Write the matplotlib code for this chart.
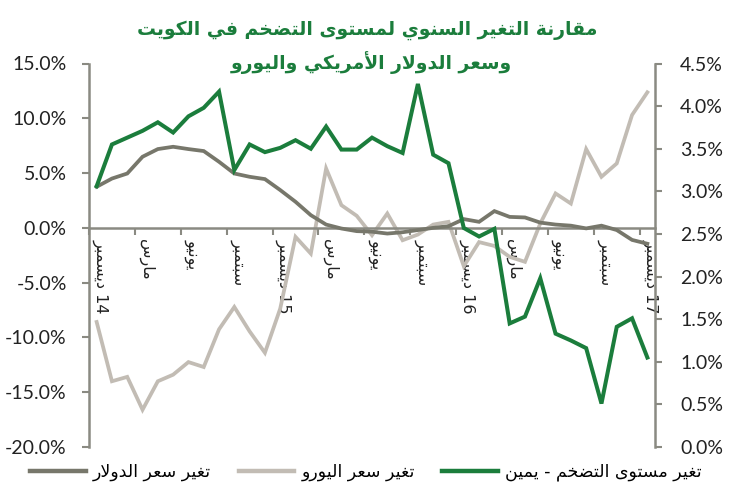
import matplotlib
matplotlib.use("Agg")
import matplotlib.pyplot as plt
from matplotlib.lines import Line2D
import numpy as np

# ---------------- data ----------------
# monthly, Dec 2014 .. Dec 2017 (37 points)
inflation = [3.06, 3.55, 3.63, 3.71, 3.81, 3.69, 3.88, 3.98, 4.17, 3.25,
             3.55, 3.46, 3.51, 3.60, 3.50, 3.76, 3.49, 3.49, 3.63, 3.53,
             3.45, 4.26, 3.43, 3.33, 2.57, 2.47, 2.56, 1.45, 1.53, 1.98,
             1.33, 1.25, 1.16, 0.51, 1.41, 1.51, 1.05]
dollar = [3.75, 4.5, 4.96, 6.49, 7.19, 7.40, 7.19, 7.01, 6.03, 4.96,
          4.66, 4.45, 3.45, 2.38, 1.16, 0.30, -0.06, -0.30, -0.35, -0.52,
          -0.40, -0.20, 0.0, 0.15, 0.80, 0.55, 1.53, 1.0, 0.95, 0.48,
          0.30, 0.20, -0.05, 0.20, -0.20, -1.10, -1.45]
euro = [-8.59, -14.0, -13.6, -16.6, -14.0, -13.4, -12.25, -12.7, -9.26, -7.22,
        -9.45, -11.4, -7.37, -0.82, -2.35, 5.42, 2.07, 1.1, -0.67, 1.31,
        -1.13, -0.61, 0.3, 0.55, -3.5, -1.3, -1.65, -2.65, -3.1, 0.4,
        3.14, 2.22, 7.19, 4.66, 5.88, 10.3, 12.37]
month_names = ["ديسمبر", "مارس", "يونيو", "سبتمبر"]
years = ["14", "15", "16", "17"]
left_ticks = [-20, -15, -10, -5, 0, 5, 10, 15]
right_ticks = [0, 0.5, 1.0, 1.5, 2.0, 2.5, 3.0, 3.5, 4.0, 4.5]
title_lines = ["مقارنة التغير السنوي لمستوى التضخم في الكويت",
               "وسعر الدولار الأمريكي واليورو"]
legend_labels = ["تغير سعر الدولار", "تغير سعر اليورو", "تغير مستوى التضخم - يمين"]

# ---------------- minimal Arabic shaping ----------------
_F = {
    'ء': ('\uFE80', None, None, None),
    'آ': ('\uFE81', '\uFE82', None, None),
    'أ': ('\uFE83', '\uFE84', None, None),
    'ؤ': ('\uFE85', '\uFE86', None, None),
    'إ': ('\uFE87', '\uFE88', None, None),
    'ئ': ('\uFE89', '\uFE8A', '\uFE8B', '\uFE8C'),
    'ا': ('\uFE8D', '\uFE8E', None, None),
    'ب': ('\uFE8F', '\uFE90', '\uFE91', '\uFE92'),
    'ة': ('\uFE93', '\uFE94', None, None),
    'ت': ('\uFE95', '\uFE96', '\uFE97', '\uFE98'),
    'ث': ('\uFE99', '\uFE9A', '\uFE9B', '\uFE9C'),
    'ج': ('\uFE9D', '\uFE9E', '\uFE9F', '\uFEA0'),
    'ح': ('\uFEA1', '\uFEA2', '\uFEA3', '\uFEA4'),
    'خ': ('\uFEA5', '\uFEA6', '\uFEA7', '\uFEA8'),
    'د': ('\uFEA9', '\uFEAA', None, None),
    'ذ': ('\uFEAB', '\uFEAC', None, None),
    'ر': ('\uFEAD', '\uFEAE', None, None),
    'ز': ('\uFEAF', '\uFEB0', None, None),
    'س': ('\uFEB1', '\uFEB2', '\uFEB3', '\uFEB4'),
    'ش': ('\uFEB5', '\uFEB6', '\uFEB7', '\uFEB8'),
    'ص': ('\uFEB9', '\uFEBA', '\uFEBB', '\uFEBC'),
    'ض': ('\uFEBD', '\uFEBE', '\uFEBF', '\uFEC0'),
    'ط': ('\uFEC1', '\uFEC2', '\uFEC3', '\uFEC4'),
    'ظ': ('\uFEC5', '\uFEC6', '\uFEC7', '\uFEC8'),
    'ع': ('\uFEC9', '\uFECA', '\uFECB', '\uFECC'),
    'غ': ('\uFECD', '\uFECE', '\uFECF', '\uFED0'),
    'ف': ('\uFED1', '\uFED2', '\uFED3', '\uFED4'),
    'ق': ('\uFED5', '\uFED6', '\uFED7', '\uFED8'),
    'ك': ('\uFED9', '\uFEDA', '\uFEDB', '\uFEDC'),
    'ل': ('\uFEDD', '\uFEDE', '\uFEDF', '\uFEE0'),
    'م': ('\uFEE1', '\uFEE2', '\uFEE3', '\uFEE4'),
    'ن': ('\uFEE5', '\uFEE6', '\uFEE7', '\uFEE8'),
    'ه': ('\uFEE9', '\uFEEA', '\uFEEB', '\uFEEC'),
    'و': ('\uFEED', '\uFEEE', None, None),
    'ى': ('\uFEEF', '\uFEF0', None, None),
    'ي': ('\uFEF1', '\uFEF2', '\uFEF3', '\uFEF4'),
    'LA': ('\uFEFB', '\uFEFC', None, None),
    'LA1': ('\uFEF7', '\uFEF8', None, None),
    'LA2': ('\uFEF9', '\uFEFA', None, None),
    'LA3': ('\uFEF5', '\uFEF6', None, None),
}
_LAM = {'ا': 'LA', 'أ': 'LA1', 'إ': 'LA2', 'آ': 'LA3'}


def shape(text):
    units = []
    i = 0
    while i < len(text):
        c = text[i]
        if c == 'ل' and i + 1 < len(text) and text[i + 1] in _LAM:
            units.append(_LAM[text[i + 1]])
            i += 2
        else:
            units.append(c)
            i += 1
    out = []
    for k, u in enumerate(units):
        if u not in _F:
            out.append(u)
            continue
        iso, fin, ini, med = _F[u]
        prev = units[k - 1] if k > 0 else None
        nxt = units[k + 1] if k + 1 < len(units) else None
        jp = prev in _F and _F[prev][2] is not None and fin is not None
        jn = nxt in _F and ini is not None and _F[nxt][1] is not None
        if jp and jn:
            out.append(med)
        elif jp:
            out.append(fin)
        elif jn:
            out.append(ini)
        else:
            out.append(iso)
    return ''.join(out)[::-1]


# ---------------- figure ----------------
GREEN = '#1b7d3c'
DOLLAR = '#77776b'
EURO = '#c2bcb4'
AXC = '#8a8a82'

plt.rcParams['font.family'] = ['DejaVu Sans']
fig = plt.figure(figsize=(7.32, 5.0), dpi=100)
ax = fig.add_axes([89 / 732, 1 - 447 / 500, (655 - 89) / 732, (447 - 63.5) / 500])
ax2 = ax.twinx()

x = np.arange(len(inflation))
ax.plot(x, euro, color=EURO, lw=2.7, solid_joinstyle='miter', zorder=2)
ax.plot(x, dollar, color=DOLLAR, lw=2.7, solid_joinstyle='miter', zorder=3)
ax2.plot(x, inflation, color=GREEN, lw=2.9, solid_joinstyle='miter', zorder=4)

ax.set_xlim(-0.5, len(inflation) - 0.5)
ax.set_ylim(-20, 15)
ax2.set_ylim(0, 4.5)

numfont = dict(family=['Lato', 'DejaVu Sans'], size=14, color='#222222')
ax.set_yticks(left_ticks)
ax.set_yticklabels(['%.1f%%' % v for v in left_ticks], **numfont)
ax2.set_yticks(right_ticks)
ax2.set_yticklabels(['%.1f%%' % v for v in right_ticks], **numfont)

# x axis at zero
ax.spines['bottom'].set_position(('data', 0))
for s in ['top', 'right']:
    ax.spines[s].set_visible(False)
for s in ['top', 'left', 'bottom']:
    ax2.spines[s].set_visible(False)
for s in [ax.spines['left'], ax.spines['bottom'], ax2.spines['right']]:
    s.set_color(AXC)
    s.set_linewidth(1.8)

lab_pos = list(range(0, len(inflation), 3))
labels = []
for j, p in enumerate(lab_pos):
    m = month_names[j % 4]
    if j % 4 == 0:
        labels.append(shape(m) + ' ' + years[j // 4])
    else:
        labels.append(shape(m))
ax.set_xticks(np.array(lab_pos) + 0.25)
ax.set_xticklabels(labels, rotation=270, va='top', ha='center',
                   fontsize=11.5, color='#222222', family=['DejaVu Sans'])
ax.set_xticks(np.arange(-0.5, len(inflation), 3), minor=True)
ax.tick_params(axis='x', which='major', length=0, pad=8)
ax.tick_params(axis='x', which='minor', length=5, width=1.5, color=AXC, direction='out')
ax.tick_params(axis='y', length=5, width=1.5, color=AXC, direction='out', pad=11)
ax2.tick_params(axis='y', length=5, width=1.5, color=AXC, direction='out', pad=13)

# title
fig.text(0.502, 1 - 30 / 500, shape(title_lines[0]), ha='center', va='center',
         fontsize=13.5, fontweight='bold', color=GREEN)
fig.text(0.507, 1 - 63 / 500, shape(title_lines[1]), ha='center', va='center',
         fontsize=13.5, fontweight='bold', color=GREEN)

handles = [Line2D([], [], color=DOLLAR, lw=3.2),
           Line2D([], [], color=EURO, lw=3.2),
           Line2D([], [], color=GREEN, lw=3.2)]
fig.legend(handles, [shape(t) for t in legend_labels], loc='center',
           bbox_to_anchor=(0.5, 1 - 472 / 500), ncol=3, frameon=False,
           fontsize=12.5, handlelength=3.2, handletextpad=0.4, columnspacing=1.6)

fig.savefig('out.png', dpi=100)
